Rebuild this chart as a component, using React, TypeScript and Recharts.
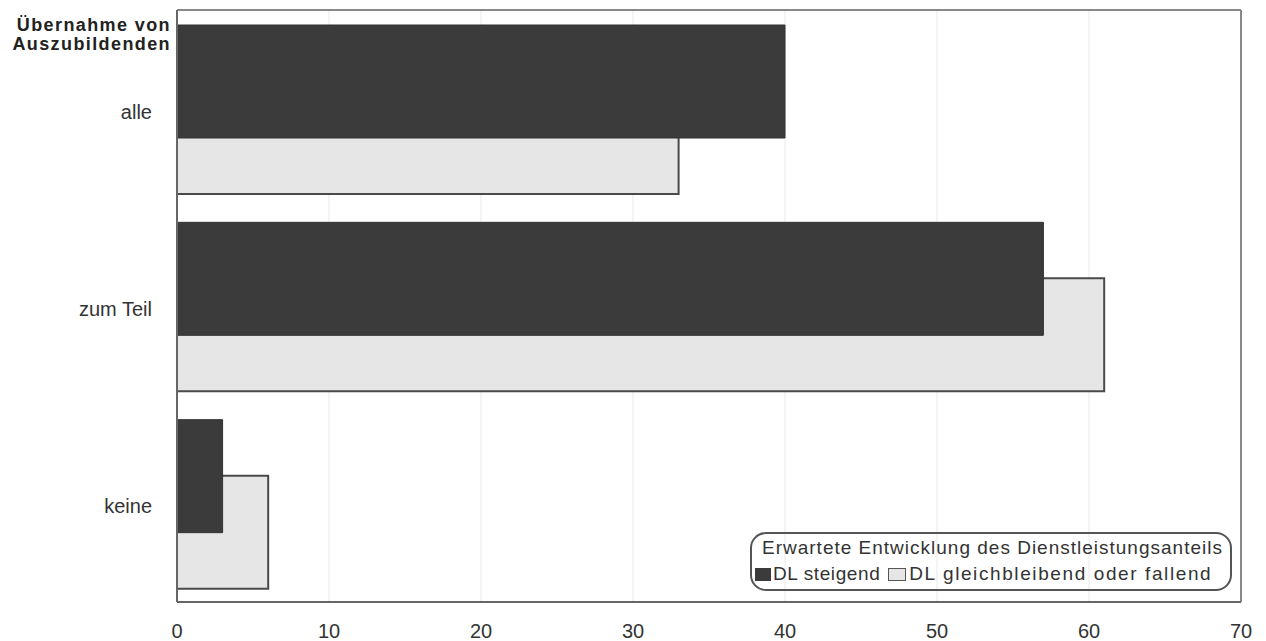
import React from "react";
import { BarChart, Bar, XAxis, YAxis, CartesianGrid, ReferenceLine } from "recharts";

const categories = ["alle", "zum Teil", "keine"];
const dlSteigend = [40, 57, 3];
const dlGleich = [33, 61, 6];
const xTicks = [0, 10, 20, 30, 40, 50, 60, 70];

const seriesNames = ["DL steigend", "DL gleichbleibend oder fallend"];
const legendTitle = "Erwartete Entwicklung des Dienstleistungsanteils";

const data = categories.map((c, i) => ({ cat: c, steigend: dlSteigend[i], gleich: dlGleich[i] }));

const font = "'Liberation Sans', Arial, sans-serif";
const DARK = "#3b3b3b";
const LIGHT = "#e6e6e6";

export default function App() {
  return (
    <div style={{ position: "absolute", left: 0, top: 0, width: 1266, height: 641, background: "#fff", fontFamily: font }}>
      <BarChart
        width={1266}
        height={641}
        data={data}
        layout="vertical"
        margin={{ top: 9, right: 25, left: 0, bottom: 0 }}
        barCategoryGap={42}
      >
        <CartesianGrid horizontal={false} stroke="#e8e8e8" strokeWidth={1} />
        <XAxis
          type="number"
          domain={[0, 70]}
          ticks={xTicks}
          height={39}
          tickSize={0}
          tickMargin={22}
          axisLine={{ stroke: "#666", strokeWidth: 2 }}
          tick={{ fill: "#333", fontSize: 20, fontFamily: font }}
        />
        <XAxis
          xAxisId="top"
          orientation="top"
          type="number"
          domain={[0, 70]}
          height={1}
          tick={false}
          tickLine={false}
          axisLine={{ stroke: "#888", strokeWidth: 2 }}
        />
        <YAxis
          type="category"
          dataKey="cat"
          width={177}
          tickSize={0}
          tickMargin={25}
          axisLine={{ stroke: "#666", strokeWidth: 2 }}
          tick={{ fill: "#333", fontSize: 20, fontFamily: font, dy: 3 }}
        />
        <YAxis yAxisId="d" type="category" dataKey="cat" hide padding={{ top: -27, bottom: 27 }} />
        <YAxis yAxisId="l" type="category" dataKey="cat" hide padding={{ top: 29, bottom: -29 }} />
        <ReferenceLine x={70} stroke="#888" strokeWidth={2} />
        <Bar yAxisId="l" dataKey="gleich" name={seriesNames[1]} fill={LIGHT} stroke="#4a4a4a" strokeWidth={2} isAnimationActive={false} />
        <Bar yAxisId="d" dataKey="steigend" name={seriesNames[0]} fill={DARK} stroke="#333" strokeWidth={1} isAnimationActive={false} />
      </BarChart>

      <div
        style={{
          position: "absolute", left: 0, top: 16, width: 171, textAlign: "right",
          fontWeight: 700, fontSize: 18, lineHeight: "19px", letterSpacing: 1.4, color: "#222",
        }}
      >
        Übernahme von<br />Auszubildenden
      </div>

      <div
        style={{
          position: "absolute", left: 750, top: 532, width: 478, height: 55,
          border: "2px solid #555", borderRadius: 16, color: "#333", fontSize: 19,
        }}
      >
        <div style={{ position: "absolute", left: 10, top: 3, whiteSpace: "nowrap", letterSpacing: 1 }}>{legendTitle}</div>
        <div style={{ position: "absolute", left: 3, top: 29, whiteSpace: "nowrap", display: "flex", alignItems: "center" }}>
          <span style={{ display: "inline-block", width: 16, height: 13, background: DARK, marginRight: 2 }} />
          <span style={{ letterSpacing: 0.6 }}>{seriesNames[0]}</span>
          <span style={{ display: "inline-block", width: 16, height: 11, background: LIGHT, border: "1.5px solid #555", marginLeft: 8, marginRight: 3 }} />
          <span style={{ letterSpacing: 1.6 }}>{seriesNames[1]}</span>
        </div>
      </div>
    </div>
  );
}
